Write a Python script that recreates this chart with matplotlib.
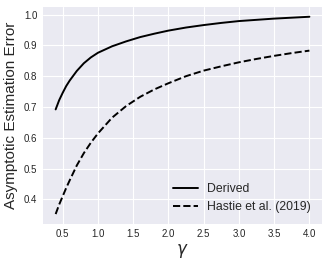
import matplotlib
matplotlib.use("Agg")
import matplotlib.pyplot as plt

gamma = [0.4, 0.45, 0.5, 0.55, 0.6, 0.7, 0.8, 0.9, 1.0, 1.2, 1.4, 1.6, 1.8, 2.0,
         2.25, 2.5, 2.75, 3.0, 3.25, 3.5, 3.75, 4.0]
derived = [0.692, 0.722, 0.746, 0.768, 0.786, 0.817, 0.842, 0.861, 0.876, 0.897,
           0.913, 0.927, 0.938, 0.948, 0.958, 0.966, 0.973, 0.979, 0.983, 0.987,
           0.990, 0.993]
hastie = [0.352, 0.383, 0.410, 0.437, 0.462, 0.510, 0.550, 0.584, 0.614, 0.665,
          0.703, 0.733, 0.757, 0.777, 0.800, 0.818, 0.832, 0.845, 0.856, 0.866,
          0.875, 0.883]
series_labels = ["Derived", "Hastie et al. (2019)"]
xticks = [0.5, 1.0, 1.5, 2.0, 2.5, 3.0, 3.5, 4.0]
yticks = [0.4, 0.5, 0.6, 0.7, 0.8, 0.9, 1.0]

plt.style.use("seaborn-v0_8-darkgrid")
plt.rcParams["font.family"] = ["Liberation Sans", "DejaVu Sans"]

fig = plt.figure(figsize=(3.28, 2.65), dpi=100)
ax = fig.add_axes([0.131, 0.155, 0.851, 0.819])
ax.plot(gamma, derived, color="black", lw=1.4, ls="-", label=series_labels[0])
ax.plot(gamma, hastie, color="black", lw=1.4, ls="--", label=series_labels[1])
ax.set_xticks(xticks)
ax.set_yticks(yticks)
ax.tick_params(labelsize=7, colors="#262626", pad=4)
ax.set_xlabel(r"$\gamma$", fontsize=12, labelpad=2, color="#262626")
ax.set_ylabel("Asymptotic Estimation Error", fontsize=11, labelpad=4, color="#262626")
ax.legend(loc="lower right", fontsize=8.8, frameon=False, handlelength=2.0)
fig.savefig("out.png", dpi=100)
